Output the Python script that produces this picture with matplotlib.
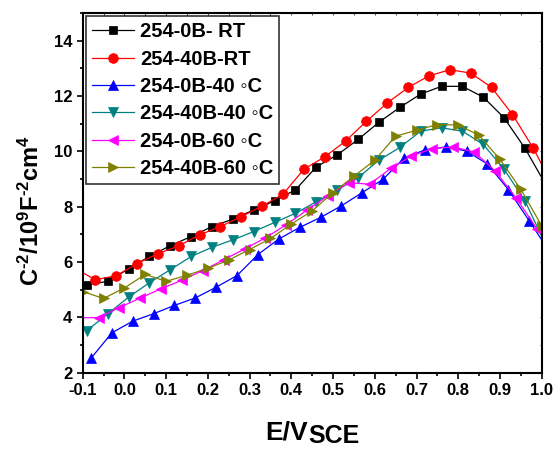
import matplotlib
matplotlib.use('Agg')
import matplotlib.pyplot as plt
from matplotlib.ticker import MultipleLocator, FormatStrFormatter

plt.rcParams['font.family'] = ['Liberation Sans', 'DejaVu Sans']
plt.rcParams['font.weight'] = 'bold'
plt.rcParams['axes.unicode_minus'] = False
plt.rcParams['mathtext.fontset'] = 'custom'
plt.rcParams['mathtext.rm'] = 'Liberation Sans:bold'
plt.rcParams['mathtext.bf'] = 'Liberation Sans:bold'
plt.rcParams['mathtext.it'] = 'Liberation Sans:bold:italic'

# Mott-Schottky data
black_x = [-0.09, -0.04, 0.01, 0.06, 0.11, 0.16, 0.21, 0.26, 0.31, 0.36, 0.41, 0.46,
           0.51, 0.56, 0.61, 0.66, 0.71, 0.76, 0.81, 0.86, 0.91, 0.96, 1.01]
black_y = [5.17, 5.30, 5.75, 6.20, 6.59, 6.92, 7.28, 7.55, 7.88, 8.21, 8.61, 9.44,
           9.87, 10.43, 11.05, 11.59, 12.07, 12.35, 12.35, 11.96, 11.21, 10.11, 8.79]

red_x = [-0.12, -0.07, -0.02, 0.03, 0.08, 0.13, 0.18, 0.23, 0.28, 0.33, 0.38, 0.43,
         0.48, 0.53, 0.58, 0.63, 0.68, 0.73, 0.78, 0.83, 0.88, 0.93, 0.98, 1.03]
red_y = [5.78, 5.36, 5.50, 5.94, 6.30, 6.58, 6.98, 7.28, 7.64, 8.02, 8.45, 9.35,
         9.80, 10.37, 11.09, 11.75, 12.31, 12.73, 12.95, 12.83, 12.31, 11.33, 10.11, 8.66]

blue_x = [-0.08, -0.03, 0.02, 0.07, 0.12, 0.17, 0.22, 0.27, 0.32, 0.37, 0.42, 0.47,
          0.52, 0.57, 0.62, 0.67, 0.72, 0.77, 0.82, 0.87, 0.92, 0.97, 1.02]
blue_y = [2.52, 3.44, 3.86, 4.13, 4.43, 4.70, 5.09, 5.51, 6.27, 6.83, 7.25, 7.61,
          8.03, 8.51, 8.99, 9.76, 10.05, 10.16, 10.01, 9.54, 8.62, 7.49, 6.34]

teal_x = [-0.09, -0.04, 0.01, 0.06, 0.11, 0.16, 0.21, 0.26, 0.31, 0.36, 0.41, 0.46,
          0.51, 0.56, 0.61, 0.66, 0.71, 0.76, 0.81, 0.86, 0.91, 0.96, 1.01]
teal_y = [3.52, 4.12, 4.73, 5.25, 5.72, 6.20, 6.53, 6.80, 7.10, 7.43, 7.76, 8.18,
          8.60, 9.05, 9.68, 10.14, 10.73, 10.85, 10.73, 10.25, 9.35, 8.21, 6.60]

magenta_x = [-0.112, -0.062, -0.012, 0.038, 0.088, 0.138, 0.188, 0.238, 0.288, 0.338,
             0.388, 0.438, 0.488, 0.538, 0.588, 0.638, 0.688, 0.738, 0.788, 0.838,
             0.888, 0.938, 0.988]
magenta_y = [3.98, 3.99, 4.35, 4.70, 5.03, 5.34, 5.69, 6.08, 6.47, 6.87,
             7.35, 7.88, 8.39, 8.87, 8.81, 9.38, 9.83, 10.10, 10.16, 9.98,
             9.30, 8.33, 7.21]

olive_x = [-0.10, -0.05, 0.00, 0.05, 0.10, 0.15, 0.20, 0.25, 0.30, 0.35, 0.40, 0.45,
           0.50, 0.55, 0.60, 0.65, 0.70, 0.75, 0.80, 0.85, 0.90, 0.95, 1.00]
olive_y = [4.93, 4.68, 5.06, 5.55, 5.30, 5.52, 5.77, 6.07, 6.45, 6.85, 7.37, 7.85,
           8.51, 9.10, 9.68, 10.55, 10.76, 10.97, 10.95, 10.58, 9.71, 8.63, 7.31]

labels = ['254-0B- RT', '254-40B-RT', '254-0B-40 \u25e6C',
          '254-40B-40 \u25e6C', '254-0B-60 \u25e6C', '254-40B-60 \u25e6C']

series = [
    (black_x, black_y, 'black', 's', 6),
    (red_x, red_y, 'red', 'o', 7),
    (blue_x, blue_y, 'blue', '^', 7.5),
    (teal_x, teal_y, '#008080', 'v', 7.5),
    (magenta_x, magenta_y, 'magenta', '<', 7.5),
    (olive_x, olive_y, '#808000', '>', 7.5),
]

fig = plt.figure(figsize=(5.55, 4.5), dpi=100)
ax = fig.add_axes([0.149, 0.172, 0.827, 0.799])

for (xs, ys, color, marker, ms), label in zip(series, labels):
    ax.plot(xs, ys, color=color, marker=marker, markersize=ms, linewidth=0.9,
            markeredgewidth=0.5, label=label)

ax.set_xlim(-0.1, 1.0)
ax.set_ylim(2, 15)
ax.xaxis.set_major_locator(MultipleLocator(0.1))
ax.xaxis.set_minor_locator(MultipleLocator(0.05))
ax.xaxis.set_major_formatter(FormatStrFormatter('%.1f'))
ax.yaxis.set_major_locator(MultipleLocator(2))
ax.yaxis.set_minor_locator(MultipleLocator(1))

for spine in ax.spines.values():
    spine.set_linewidth(1.5)

ax.tick_params(which='major', direction='out', length=4.5, width=1.2,
               labelsize=12, pad=3)
ax.tick_params(which='minor', direction='out', length=2.5, width=1.2)
ax.tick_params(which='both', top=True, right=True)
# tiny inward ticks on the top/right frame
for tk in ax.xaxis.get_major_ticks() + ax.xaxis.get_minor_ticks():
    tk.tick2line.set_markersize(1.5)
    tk.tick2line.set_markeredgewidth(0.5)
    tk.tick2line.set_marker(3)
for tk in ax.yaxis.get_major_ticks() + ax.yaxis.get_minor_ticks():
    tk.tick2line.set_markersize(1.5)
    tk.tick2line.set_markeredgewidth(0.5)
    tk.tick2line.set_marker(0)

for lab in ax.get_xticklabels() + ax.get_yticklabels():
    lab.set_fontweight('bold')

ax.set_ylabel(r'C$^{\text{-}2}$/10$^{9}$F$^{\text{-}2}$cm$^{4}$', fontsize=17,
              fontweight='bold')
ax.yaxis.set_label_coords(-0.085, 0.452)

# x label: E/V with a large SCE subscript
xl = fig.text(265 / 555, 11 / 450, 'E/V', fontsize=19, fontweight='bold',
              ha='left', va='baseline')
ax.annotate('SCE', xy=(1.0, 0.0), xycoords=xl, xytext=(0.5, 0.5),
            textcoords='offset points', fontsize=18, fontweight='bold',
            ha='left', va='baseline')

leg = ax.legend(loc='upper left', bbox_to_anchor=(0.0, 1.0), fontsize=14.5,
                frameon=True, fancybox=False, borderaxespad=0.15,
                handlelength=2.1, handletextpad=0.3, labelspacing=0.42,
                borderpad=0.3)
leg.get_frame().set_edgecolor('black')
leg.get_frame().set_linewidth(1.2)
for t in leg.get_texts():
    t.set_fontweight('bold')

fig.savefig('out.png', dpi=100)
